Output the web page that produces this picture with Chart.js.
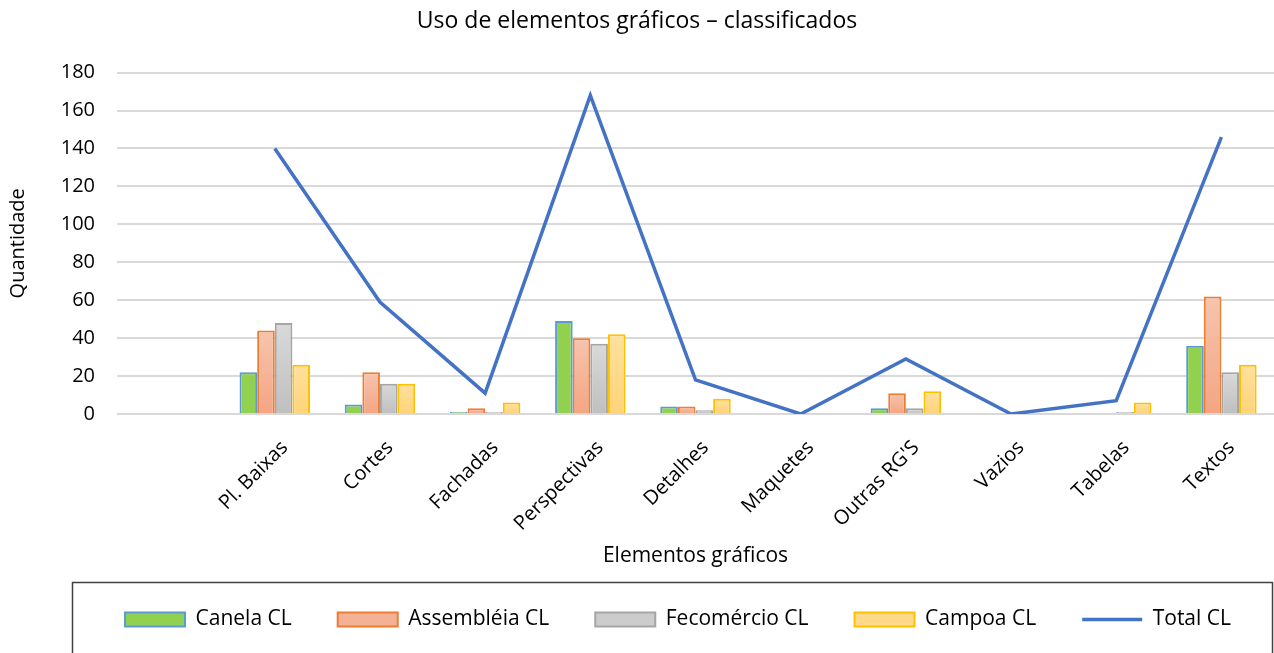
<!DOCTYPE html>
<html>
<head>
<meta charset="utf-8">
<script src="https://cdn.jsdelivr.net/npm/chart.js@4.4.1/dist/chart.umd.min.js"></script>
<style>
  html, body { margin: 0; padding: 0; background: #fff; }
  #wrap { width: 1274px; height: 653px; }
</style>
</head>
<body>
<div id="wrap"><canvas id="chart"></canvas></div>
<script>
// categories (first slot is empty in the original)
const categories = ['', 'Pl. Baixas', 'Cortes', 'Fachadas', 'Perspectivas', 'Detalhes', 'Maquetes', "Outras RG'S", 'Vazios', 'Tabelas', 'Textos'];

// series
const canela      = [null, 22, 5, 1, 49, 4, 0, 3, 0, 0, 36];
const assembleia  = [null, 44, 22, 3, 40, 4, 0, 11, 0, 0, 62];
const fecomercio  = [null, 48, 16, 1, 37, 2, 0, 3, 0, 1, 22];
const campoa      = [null, 26, 16, 6, 42, 8, 0, 12, 0, 6, 26];
const total       = [null, 140, 59, 11, 168, 18, 0, 29, 0, 7, 146];

const yTicks = [0, 20, 40, 60, 80, 100, 120, 140, 160, 180];

const FONT = "'Open Sans', sans-serif";

// gradient per bar, light on top and a bit darker at the base
function barGradient(topColor, bottomColor, solid) {
    return (c) => {
        const chart = c.chart;
        const v = c.raw;
        if (!chart.chartArea || c.type !== 'data' || !v) return solid;
        const y = chart.scales.y;
        const g = chart.ctx.createLinearGradient(0, y.getPixelForValue(v), 0, y.getPixelForValue(0));
        g.addColorStop(0, topColor);
        g.addColorStop(1, bottomColor);
        return g;
    };
}

// legend sits inside a framed box, like the original
const legendFrame = {
    id: 'legendFrame',
    afterLayout(chart) {
        const lg = chart.legend;
        lg.left = 78;
        lg.right = 1278;
        lg.width = 1200;
    },
    afterDraw(chart) {
        const ctx = chart.ctx;
        ctx.save();
        ctx.strokeStyle = '#404040';
        ctx.lineWidth = 1.5;
        ctx.strokeRect(72.5, 582.5, 1200, 100);
        ctx.restore();
    }
};

const ctx = document.getElementById('chart');

new Chart(ctx, {
    data: {
        labels: categories,
        datasets: [
            {
                type: 'line',
                label: 'Total CL',
                data: total,
                borderColor: '#4472c4',
                backgroundColor: '#4472c4',
                borderWidth: 3.5,
                pointRadius: 0,
                pointStyle: 'line',
                tension: 0,
                order: 0
            },
            {
                type: 'bar',
                label: 'Canela CL',
                data: canela,
                backgroundColor: '#92d050',
                borderColor: '#5b9bd5',
                borderWidth: 2,
                pointStyle: 'rect',
                order: 1
            },
            {
                type: 'bar',
                label: 'Assembléia CL',
                data: assembleia,
                backgroundColor: barGradient('#f6c4ae', '#f4a582', '#f5b196'),
                borderColor: '#ed7d31',
                borderWidth: 2,
                pointStyle: 'rect',
                order: 1
            },
            {
                type: 'bar',
                label: 'Fecomércio CL',
                data: fecomercio,
                backgroundColor: barGradient('#d9d9d9', '#bfbfbf', '#cccccc'),
                borderColor: '#a5a5a5',
                borderWidth: 2,
                pointStyle: 'rect',
                order: 1
            },
            {
                type: 'bar',
                label: 'Campoa CL',
                data: campoa,
                backgroundColor: barGradient('#ffe09e', '#ffd479', '#ffd98a'),
                borderColor: '#ffc000',
                borderWidth: 2,
                pointStyle: 'rect',
                order: 1
            }
        ]
    },
    options: {
        responsive: true,
        maintainAspectRatio: false,
        animation: false,
        layout: { padding: { left: 0, right: 0, top: 0, bottom: 13 } },
        datasets: {
            bar: { categoryPercentage: 0.67, barPercentage: 1, borderSkipped: 'bottom' }
        },
        plugins: {
            title: {
                display: true,
                text: 'Uso de elementos gráficos – classificados',
                color: '#000',
                font: { family: FONT, size: 23, weight: 'normal' },
                padding: { top: 8, bottom: 37 }
            },
            legend: {
                position: 'bottom',
                labels: {
                    color: '#000',
                    font: { family: FONT, size: 21 },
                    usePointStyle: true,
                    pointStyleWidth: 60,
                    boxHeight: 14,
                    padding: 46,
                    sort: (a, b) => (a.datasetIndex === 0) - (b.datasetIndex === 0)
                }
            },
            tooltip: { enabled: false }
        },
        scales: {
            x: {
                grid: { display: false, drawTicks: false },
                border: { display: false },
                ticks: {
                    color: '#000',
                    font: { family: FONT, size: 20 },
                    minRotation: 45,
                    maxRotation: 45,
                    autoSkip: false,
                    padding: 22,
                    labelOffset: 10
                },
                title: {
                    display: true,
                    text: 'Elementos gráficos',
                    color: '#000',
                    font: { family: FONT, size: 21 },
                    padding: { top: 0, bottom: -6 }
                },
                afterFit: (scale) => { scale.height = 149; }
            },
            y: {
                min: 0,
                max: 180,
                afterBuildTicks: (scale) => { scale.ticks = yTicks.map(v => ({ value: v })); },
                grid: { color: '#d9d9d9', lineWidth: 2, drawTicks: false },
                border: { display: false },
                ticks: {
                    color: '#000',
                    font: { family: FONT, size: 20 },
                    padding: 22
                },
                title: {
                    display: true,
                    text: 'Quantidade',
                    color: '#000',
                    font: { family: FONT, size: 20 },
                    padding: { top: 6, bottom: 0 }
                },
                afterFit: (scale) => { scale.width = 117; }
            }
        }
    },
    plugins: [legendFrame]
});
</script>
</body>
</html>
